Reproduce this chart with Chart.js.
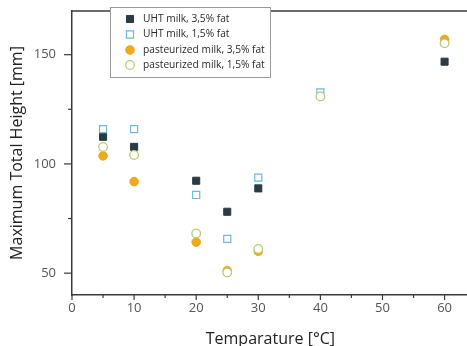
<!DOCTYPE html>
<html><head><meta charset="utf-8">
<script src="https://cdn.jsdelivr.net/npm/chart.js@4/dist/chart.umd.min.js"></script>
<style>html,body{margin:0;padding:0;background:#fff;overflow:hidden}#wrap{width:475px;height:352px}</style>
</head><body><div id="wrap"><canvas id="c" width="475" height="352"></canvas></div>
<script>
const temps = [5, 10, 20, 25, 30, 40, 60];
const uht35 = [112.4, 107.8, 92.3, 78.1, 88.8, null, 146.8];
const uht15 = [115.9, 115.9, 85.8, 65.7, 93.7, 132.7, null];
const past35 = [103.7, 91.9, 64.2, 51.2, 60.0, null, 157.0];
const past15 = [107.8, 104.1, 68.2, 50.3, 61.1, 130.9, 155.2];
const seriesNames = ['UHT milk, 3,5% fat', 'UHT milk, 1,5% fat', 'pasteurized milk, 3,5% fat', 'pasteurized milk, 1,5% fat'];
const xTicks = [0, 10, 20, 30, 40, 50, 60];
const yTicks = [50, 100, 150];

function pts(vals){ return temps.map((t,i)=>({x:t,y:vals[i]})).filter(p=>p.y!==null); }

const styles = [
  {pointStyle:'rect', radius:5, bg:'#2c3a45', border:'#2c3a45', bw:1, order:3},
  {pointStyle:'rect', radius:5, bg:'#ffffff', border:'#6fb8d8', bw:1.2, order:2},
  {pointStyle:'circle', radius:4.3, bg:'#f0a81e', border:'#f0a81e', bw:1, order:1},
  {pointStyle:'circle', radius:4.3, bg:'#ffffff', border:'#b6cc78', bw:1.3, order:0}
];
const allVals = [uht35, uht15, past35, past15];

const datasets = allVals.map((v,i)=>({
  label: seriesNames[i], data: pts(v), showLine:false,
  pointStyle: styles[i].pointStyle, pointRadius: styles[i].radius, pointHoverRadius: styles[i].radius,
  backgroundColor: styles[i].bg, borderColor: styles[i].border, borderWidth: styles[i].bw, order: styles[i].order
}));

const axisColor = '#3a3a3a';
const decor = {
  id:'decor',
  afterDraw(chart){
    const ctx = chart.ctx, a = chart.chartArea, xs = chart.scales.x, ys = chart.scales.y;
    ctx.save();
    ctx.strokeStyle = axisColor; ctx.lineWidth = 1.5;
    ctx.beginPath(); ctx.moveTo(a.left, a.top); ctx.lineTo(a.right + 10, a.top); ctx.stroke();
    ctx.lineWidth = 1.2;
    for (let v = 0; v <= 60; v += 5) {
      const px = xs.getPixelForValue(v);
      const len = (v % 10 === 0) ? 5 : 3;
      ctx.beginPath(); ctx.moveTo(px, a.bottom); ctx.lineTo(px, a.bottom + len); ctx.stroke();
    }
    for (let v = 50; v <= 150; v += 25) {
      const py = ys.getPixelForValue(v);
      const len = (v % 50 === 0) ? 8 : 4;
      ctx.beginPath(); ctx.moveTo(a.left, py); ctx.lineTo(a.left - len, py); ctx.stroke();
    }
    // legend
    const lx = 110, ly = 7, lw = 160, lh = 70;
    ctx.fillStyle = '#fff'; ctx.fillRect(lx, ly, lw, lh);
    ctx.strokeStyle = '#9a9a9a'; ctx.lineWidth = 1;
    ctx.strokeRect(lx + 0.5, ly + 0.5, lw, lh);
    ctx.font = '10.2px "Open Sans"'; ctx.textBaseline = 'middle'; ctx.textAlign = 'left';
    const rowY = [19, 34.5, 50, 65];
    datasets.forEach((d,i)=>{
      const st = styles[i];
      const cx = 130, cy = rowY[i];
      ctx.fillStyle = st.bg; ctx.strokeStyle = st.border; ctx.lineWidth = st.bw;
      ctx.beginPath();
      if (st.pointStyle === 'rect') { const s = st.radius * Math.SQRT1_2; ctx.rect(cx - s, cy - s, 2*s, 2*s); }
      else ctx.arc(cx, cy, st.radius, 0, Math.PI*2);
      ctx.fill(); ctx.stroke();
      ctx.fillStyle = '#2a2a2a';
      ctx.fillText(d.label, 143, cy);
    });
    ctx.restore();
  }
};

new Chart(document.getElementById('c'), {
  type: 'scatter',
  data: { datasets },
  options: {
    responsive:false, animation:false,
    layout:{padding:{top:11, right:0, left:0, bottom:0}},
    plugins:{legend:{display:false}, tooltip:{enabled:false}},
    scales:{
      x:{
        type:'linear', min:0, max:63.9,
        afterFit(s){ s.height = 57; s.paddingLeft = 0; s.paddingRight = 0; },
        grid:{display:false, drawTicks:false},
        border:{display:true, color:axisColor, width:1.5},
        afterBuildTicks(s){ s.ticks = xTicks.map(v=>({value:v})); },
        ticks:{color:'#555', font:{family:'"Open Sans"', size:13}, padding:5, maxRotation:0},
        title:{display:true, text:'Temparature [°C]', color:'#222', font:{family:'"Open Sans"', size:16}, padding:{top:0,bottom:3}}
      },
      y:{
        type:'linear', min:40, max:170,
        afterFit(s){ s.width = 72; s.paddingTop = 0; s.paddingBottom = 0; },
        grid:{display:false, drawTicks:false},
        border:{display:true, color:axisColor, width:1.5},
        afterBuildTicks(s){ s.ticks = yTicks.map(v=>({value:v})); },
        ticks:{color:'#555', font:{family:'"Open Sans"', size:13}, padding:16},
        title:{display:true, text:'Maximum Total Height [mm]', color:'#222', font:{family:'"Open Sans"', size:16}, padding:{top:8,bottom:0}}
      }
    }
  },
  plugins:[decor]
});
</script></body></html>
